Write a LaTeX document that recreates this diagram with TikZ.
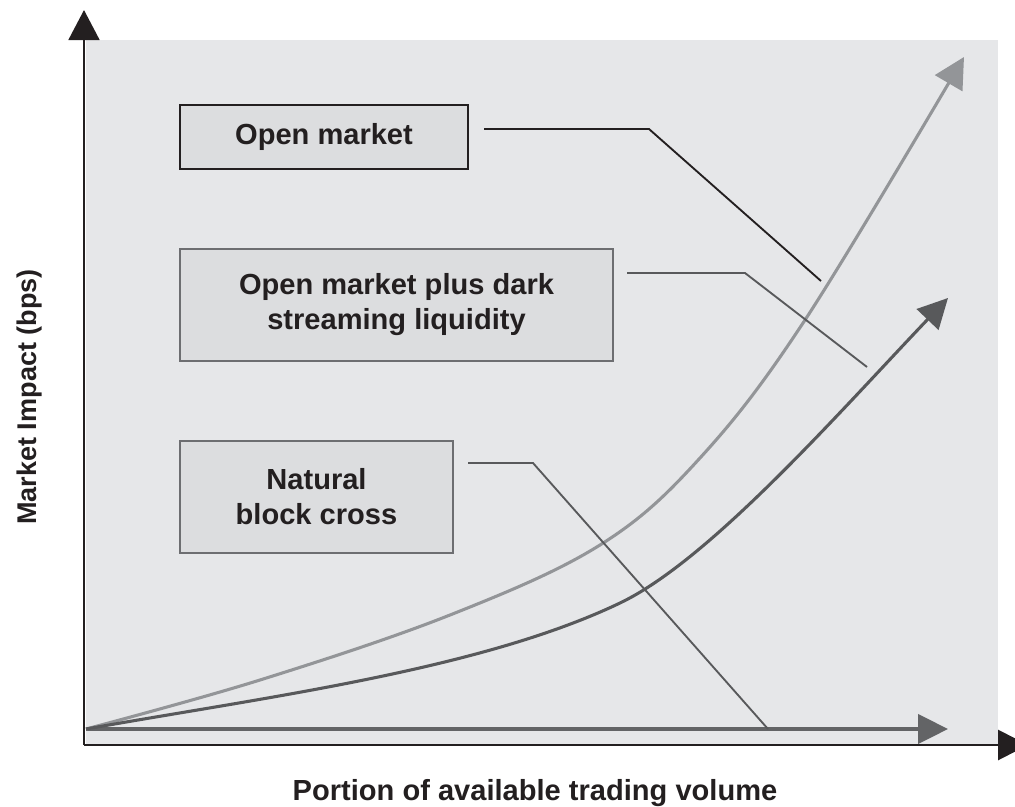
\documentclass[tikz,border=0pt]{standalone}
\usepackage{fontspec}
\setmainfont{Liberation Sans}
\usetikzlibrary{arrows.meta}
\definecolor{bgc}{HTML}{E6E7E9}
\definecolor{boxc}{HTML}{DCDDDF}
\definecolor{inkc}{HTML}{231F20}
\definecolor{lightc}{HTML}{939598}
\definecolor{darkc}{HTML}{58595B}
\definecolor{midc}{HTML}{636466}
\definecolor{edgec}{HTML}{6D6E71}
\tikzset{
  labelbox/.style={draw=edgec, line width=1.4pt, fill=boxc, inner sep=0pt, align=center,
    text=inkc, font=\fontsize{21.8}{26.3}\selectfont\bfseries},
  axisline/.style={draw=inkc, line width=2.2pt},
  leader/.style={draw=darkc, line width=1.4pt},
  curve/.style={line width=2.3pt},
  axislabel/.style={text=inkc, font=\fontsize{21.8}{26.3}\selectfont\bfseries, inner sep=0pt}
}
\begin{document}
\begin{tikzpicture}[x=0.75pt,y=-0.75pt]
\useasboundingbox (0,0) rectangle (1015,807);
\clip (0,0) rectangle (1015,807);
% background
\fill[bgc] (86,40) rectangle (998,745);
% axes
\coordinate (o) at (84,745);
\coordinate (ytip) at (84,10);
\coordinate (xtip) at (1028,745);
\draw[axisline,-{Triangle[length=22.5pt,width=23pt]}] (o) -- (ytip);
\draw[axisline,-{Triangle[length=22.5pt,width=22.5pt]}] (o) -- (xtip);
% boxes
\node[labelbox, draw=inkc, minimum width=216pt, minimum height=48pt] (b1) at (324,137) {Open market};
\node[labelbox, minimum width=324.75pt, minimum height=84pt] (b2) at (396.5,305) {Open market plus dark\\streaming liquidity};
\node[labelbox, minimum width=204.75pt, minimum height=84pt] (b3) at (316.5,497) {Natural\\block cross};
% curves
\coordinate (s) at (86,729);
\coordinate (htip) at (948,729);
\coordinate (dmid) at (620,603);
\coordinate (dtip) at (948,298);
\draw[curve, draw=midc, -{Triangle[length=22.5pt,width=22pt]}] (s) -- (htip);
\draw[curve, draw=lightc, -{Triangle[length=22.8pt,width=23.5pt]}] plot[smooth, tension=0.6] coordinates {(86,729) (260,680) (450,615) (600,545) (700,458) (805,320) (964,57)};
\draw[curve, draw=darkc, -{Triangle[length=22.3pt,width=22.3pt]}] (s) .. controls (266,697) and (480,670) .. (dmid) .. controls (710,560) and (838,413.5) .. (dtip);
% leader lines
\coordinate (l1a) at (484,129);
\coordinate (l1b) at (649,129);
\coordinate (l1c) at (821,281);
\coordinate (l2a) at (627,273);
\coordinate (l2b) at (745,273);
\coordinate (l2c) at (867,367);
\coordinate (l3a) at (468,463);
\coordinate (l3b) at (533,463);
\coordinate (l3c) at (768,729);
\draw[leader, draw=inkc] (l1a) -- (l1b) -- (l1c);
\draw[leader] (l2a) -- (l2b) -- (l2c);
\draw[leader] (l3a) -- (l3b) -- (l3c);
% axis labels
\node[axislabel] (xl) at (535,793) {Portion of available trading volume};
\node[axislabel, rotate=90, font=\fontsize{20.3}{24}\selectfont\bfseries] (yl) at (30,397) {Market Impact (bps)};
\end{tikzpicture}
\end{document}
